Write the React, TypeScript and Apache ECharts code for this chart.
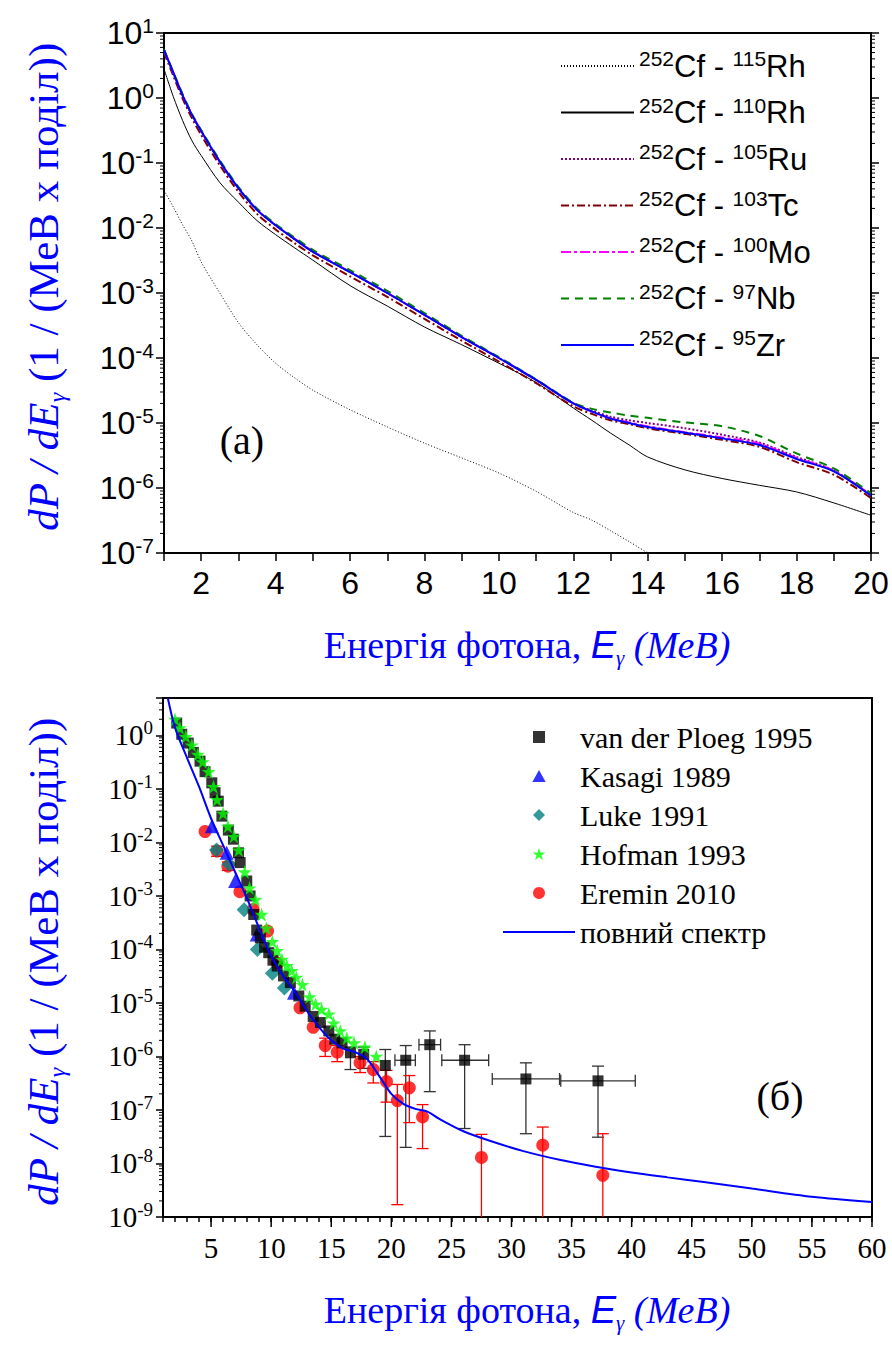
import React, { useEffect, useRef } from 'react';
import * as echarts from 'echarts';

// ---------- Top chart (a) ----------
const E_TOP = [1, 1.25, 1.5, 1.75, 2, 2.5, 3, 3.5, 4, 4.5, 5, 6, 7, 8, 9, 10, 11, 12, 12.5, 13, 13.5, 14, 15, 16, 17, 18, 19, 20];
const RH115 = [0.038, 0.021, 0.0112, 6.3e-3, 3.0e-3, 1.0e-3, 3.5e-4, 1.6e-4, 8.3e-5, 5.0e-5, 3.2e-5, 1.6e-5, 8.7e-6, 4.9e-6, 2.9e-6, 1.7e-6, 8.9e-7, 4.2e-7, 3.2e-7, 2.2e-7, 1.5e-7, 1.0e-7, null, null, null, null, null, null];
const RH110 = [2.8, 1.05, 0.45, 0.22, 0.13, 0.05, 0.025, 0.013, 7.9e-3, 5.0e-3, 3.2e-3, 1.3e-3, 6.3e-4, 3.0e-4, 1.6e-4, 8.3e-5, 4.2e-5, 1.7e-5, 1.1e-5, 7.0e-6, 4.6e-6, 3.0e-6, 1.9e-6, 1.4e-6, 1.1e-6, 8.7e-7, 5.9e-7, 3.8e-7];
const RU105 = [5.5, 2.45, 1.1, 0.55, 0.31, 0.105, 0.041, 0.019, 0.011, 6.8e-3, 4.3e-3, 2.1e-3, 1.0e-3, 4.6e-4, 2.1e-4, 1.0e-4, 4.6e-5, 2.0e-5, 1.55e-5, 1.25e-5, 1.1e-5, 1.0e-5, 8.3e-6, 6.6e-6, 5.0e-6, 3.0e-6, 1.85e-6, 7.8e-7];
const TC103 = [5.0, 2.2, 0.98, 0.49, 0.27, 0.092, 0.036, 0.0165, 9.5e-3, 5.9e-3, 3.8e-3, 1.8e-3, 8.7e-4, 4.0e-4, 1.85e-4, 8.8e-5, 4.1e-5, 1.8e-5, 1.38e-5, 1.1e-5, 9.6e-6, 8.3e-6, 6.8e-6, 5.5e-6, 4.3e-6, 2.5e-6, 1.6e-6, 7.0e-7];
const MO100 = [5.4, 2.45, 1.1, 0.55, 0.31, 0.105, 0.041, 0.019, 0.011, 6.9e-3, 4.4e-3, 2.1e-3, 1.0e-3, 4.6e-4, 2.1e-4, 1.0e-4, 4.6e-5, 2.0e-5, 1.5e-5, 1.18e-5, 1.02e-5, 8.9e-6, 7.2e-6, 6.0e-6, 4.8e-6, 2.9e-6, 1.85e-6, 7.8e-7];
const NB97 = [5.6, 2.5, 1.15, 0.57, 0.32, 0.11, 0.043, 0.02, 0.0115, 7.2e-3, 4.6e-3, 2.25e-3, 1.08e-3, 4.9e-4, 2.2e-4, 1.03e-4, 4.7e-5, 2.05e-5, 1.65e-5, 1.45e-5, 1.3e-5, 1.2e-5, 1.02e-5, 8.9e-6, 6.3e-6, 3.4e-6, 2.0e-6, 8.3e-7];
const ZR95 = [5.5, 2.45, 1.1, 0.55, 0.31, 0.105, 0.041, 0.019, 0.011, 6.8e-3, 4.3e-3, 2.1e-3, 1.0e-3, 4.6e-4, 2.1e-4, 1.0e-4, 4.6e-5, 2.0e-5, 1.5e-5, 1.17e-5, 1.0e-5, 8.7e-6, 7.1e-6, 5.8e-6, 4.6e-6, 2.8e-6, 1.8e-6, 7.6e-7];

const TOP_NAMES = ['252Cf - 115Rh', '252Cf - 110Rh', '252Cf - 105Ru', '252Cf - 103Tc', '252Cf - 100Mo', '252Cf - 97Nb', '252Cf - 95Zr'];
const TOP_DATA = [RH115, RH110, RU105, TC103, MO100, NB97, ZR95];
const TOP_COLORS = ['#000000', '#000000', '#800080', '#800000', '#ff00ff', '#008000', '#0000ff'];

// ---------- Bottom chart (б) ----------
// van der Ploeg 1995: [E, value]
const PLOEG = [[2.14, 1.7], [2.56, 1.05], [3.1, 0.72], [3.53, 0.48], [4.08, 0.33], [4.5, 0.21], [5.06, 0.13], [5.33, 0.085], [5.6, 0.059], [5.9, 0.031], [6.44, 0.017], [6.86, 0.0115], [7.28, 6.4e-3], [7.42, 4.2e-3], [7.97, 1.9e-3], [8.25, 1.0e-3], [8.55, 4.5e-4], [8.8, 2.3e-4], [9.1, 1.65e-4], [9.45, 1.1e-4], [9.8, 8.7e-5], [10.15, 6.3e-5], [10.5, 4.9e-5], [11.03, 3.2e-5], [11.6, 2.4e-5], [12.3, 1.35e-5], [12.83, 8.7e-6], [13.5, 5.6e-6], [14.1, 4.3e-6], [14.8, 3.0e-6], [15.3, 2.1e-6], [15.9, 1.8e-6], [16.6, 1.17e-6], [17.7, 1.1e-6]];
// van der Ploeg with error bars: [E, value, yLow, yHigh, xLow, xHigh]
const PLOEG_ERR = [[16.6, 1.17e-6, 5.7e-7, 1.5e-6, null, null], [17.7, 1.1e-6, 6.0e-7, 1.5e-6, null, null], [19.5, 6.8e-7, 3.2e-8, 1.35e-6, null, null], [21.2, 8.5e-7, 2.0e-8, 1.6e-6, 20.3, 22.0], [23.2, 1.66e-6, 2.2e-7, 3.0e-6, 22.3, 24.1], [26.1, 8.5e-7, 4.5e-8, 1.66e-6, 24.2, 28.1], [31.2, 3.8e-7, 3.6e-8, 7.6e-7, 28.4, 34.0], [37.2, 3.5e-7, 3.1e-8, 6.6e-7, 34.1, 40.3]];
const KASAGI = [[5.06, 0.020], [6.3, 6.4e-3], [7.0, 1.9e-3], [8.8, 1.9e-4], [11.9, 1.55e-5]];
const LUKE = [[5.45, 7.2e-3], [6.5, 3.9e-3], [7.75, 5.5e-4], [8.85, 1.0e-4], [10.1, 3.6e-5], [11.1, 1.9e-5]];
const HOFMAN = [[2.0, 2.0], [2.4, 1.38], [2.9, 0.95], [3.4, 0.66], [3.9, 0.44], [4.3, 0.32], [4.8, 0.21], [5.2, 0.11], [5.5, 0.063], [6.0, 0.035], [6.4, 0.02], [6.9, 0.013], [7.3, 7.2e-3], [7.8, 2.8e-3], [8.2, 1.4e-3], [8.7, 8.5e-4], [9.2, 4.5e-4], [9.6, 2.5e-4], [10.1, 1.4e-4], [10.5, 9.5e-5], [10.9, 6.5e-5], [11.3, 5.0e-5], [11.7, 4.0e-5], [12.1, 3.0e-5], [12.6, 2.2e-5], [13.2, 1.3e-5], [13.7, 9.5e-6], [14.2, 7.6e-6], [14.8, 6.2e-6], [15.2, 4.2e-6], [15.75, 3.0e-6], [16.3, 2.2e-6], [16.9, 1.8e-6], [17.8, 1.5e-6], [18.75, 1.0e-6]];
// Eremin 2010: [E, value, yLow, yHigh]
const EREMIN = [[4.5, 0.016, null, null], [5.5, 6.9e-3, 5.5e-3, 8.5e-3], [6.4, 3.6e-3, 3.0e-3, 4.3e-3], [7.4, 1.2e-3, null, null], [8.5, 5.6e-4, null, null], [9.7, 2.2e-4, null, null], [10.5, 5.6e-5, null, null], [12.4, 8.1e-6, null, null], [13.5, 3.5e-6, null, null], [14.5, 1.6e-6, 1.0e-6, 2.2e-6], [15.5, 1.2e-6, 8.0e-7, 1.6e-6], [17.4, 7.6e-7, 5.0e-7, 1.0e-6], [18.5, 5.7e-7, 3.2e-7, 8.0e-7], [19.6, 3.4e-7, 1.4e-7, 5.5e-7], [20.5, 1.5e-7, 1.7e-9, 3.0e-7], [21.5, 2.6e-7, 5.8e-8, 4.4e-7], [22.6, 7.4e-8, 1.9e-8, 1.26e-7], [27.5, 1.3e-8, 1e-11, 3.5e-8], [32.6, 2.2e-8, 1e-11, 4.8e-8], [37.6, 6.0e-9, 1e-11, 3.6e-8]];
// full spectrum line
const E_FULL = [1.4, 2, 3, 4, 5, 6, 7, 8, 9, 10, 11, 12, 13, 14, 15, 16, 17, 18, 19, 20, 21, 22, 23, 24, 26, 28, 31, 34, 37, 40, 43, 46, 50, 55, 60];
const FULL = [5.0, 1.4, 0.38, 0.11, 0.028, 8.9e-3, 2.8e-3, 8.9e-4, 2.5e-4, 7.6e-5, 3.2e-5, 1.6e-5, 7.0e-6, 3.5e-6, 2.0e-6, 1.4e-6, 1.2e-6, 8.9e-7, 4.3e-7, 2.0e-7, 1.3e-7, 1.05e-7, 9.3e-8, 6.8e-8, 4.0e-8, 2.75e-8, 1.7e-8, 1.17e-8, 8.7e-9, 6.8e-9, 5.5e-9, 4.5e-9, 3.4e-9, 2.4e-9, 1.9e-9];

const BOTTOM_NAMES = ['van der Ploeg 1995', 'Kasagi 1989', 'Luke 1991', 'Hofman 1993', 'Eremin 2010', 'повний спектр'];

const STAR = 'path://M50 0L61.8 35.1L98.8 35.1L68.8 56.9L80.2 92.1L50 70.3L19.8 92.1L31.2 56.9L1.2 35.1L38.2 35.1Z';
const SQUARE = 'path://M0 0L10 0L10 10L0 10Z';
const TRIANGLE = 'path://M5 0L10 9L0 9Z';
const DIAMOND = 'path://M5 0L10 5L5 10L0 5Z';

const SANS = "'Liberation Sans', Arial, sans-serif";
const SERIF = "'Liberation Serif', 'Times New Roman', serif";
const BLUE = '#0000ff';

function minorTickValues(kMin: number, kMax: number, top: number) {
  const out: number[] = [];
  for (let k = kMin; k <= kMax; k++) {
    for (let m = 2; m <= 9; m++) {
      const v = m * Math.pow(10, k);
      if (v < top) out.push(v);
    }
  }
  return out;
}

function supLabel(v: number) {
  const l = Math.log10(v);
  const e = Math.round(l);
  if (Math.abs(l - e) > 1e-6) return '';
  return `{a|10}{b|${e}}`;
}

function tickSeries(xIdx: number, yIdx: number, pts: number[][], dx: number, dy: number, len: number, lw: number) {
  return {
    type: 'custom',
    xAxisIndex: xIdx,
    yAxisIndex: yIdx,
    silent: true,
    clip: false,
    z: 5,
    data: pts,
    renderItem: (_p: any, api: any) => {
      const c = api.coord([api.value(0), api.value(1)]);
      return {
        type: 'line',
        shape: { x1: c[0], y1: c[1], x2: c[0] + dx * len, y2: c[1] + dy * len },
        style: { stroke: '#000', lineWidth: lw },
      };
    },
  };
}

function errSeries(xIdx: number, yIdx: number, data: any[], color: string, cap: number) {
  return {
    type: 'custom',
    xAxisIndex: xIdx,
    yAxisIndex: yIdx,
    silent: true,
    clip: true,
    data,
    renderItem: (_p: any, api: any) => {
      const x = api.value(0);
      const y = api.value(1);
      const lo = api.value(2);
      const hi = api.value(3);
      const xlo = api.value(4);
      const xhi = api.value(5);
      const children: any[] = [];
      const st = { stroke: color, lineWidth: 1.3 };
      if (Number.isFinite(lo) && Number.isFinite(hi) && lo > 0) {
        const pLo = api.coord([x, lo]);
        const pHi = api.coord([x, hi]);
        children.push({ type: 'line', shape: { x1: pLo[0], y1: pLo[1], x2: pHi[0], y2: pHi[1] }, style: st });
        children.push({ type: 'line', shape: { x1: pHi[0] - cap, y1: pHi[1], x2: pHi[0] + cap, y2: pHi[1] }, style: st });
        if (lo >= 1e-9) {
          children.push({ type: 'line', shape: { x1: pLo[0] - cap, y1: pLo[1], x2: pLo[0] + cap, y2: pLo[1] }, style: st });
        }
      }
      if (Number.isFinite(xlo) && Number.isFinite(xhi) && xlo > 0) {
        const a = api.coord([xlo, y]);
        const b = api.coord([xhi, y]);
        children.push({ type: 'line', shape: { x1: a[0], y1: a[1], x2: b[0], y2: b[1] }, style: st });
        children.push({ type: 'line', shape: { x1: a[0], y1: a[1] - cap, x2: a[0], y2: a[1] + cap }, style: st });
        children.push({ type: 'line', shape: { x1: b[0], y1: b[1] - cap, x2: b[0], y2: b[1] + cap }, style: st });
      }
      return { type: 'group', children };
    },
  };
}

export default function App() {
  const ref = useRef<HTMLDivElement>(null);
  useEffect(() => {
    document.body.style.margin = '0';
    if (!ref.current) return;
    const chart = echarts.init(ref.current, undefined, { renderer: 'svg' });

    const lineStyles: any[] = [
      { width: 1, type: [1, 2] },
      { width: 1, type: 'solid' },
      { width: 2, type: [2, 2] },
      { width: 2, type: [8, 3, 2, 3] },
      { width: 2, type: [10, 3, 3, 3] },
      { width: 2, type: [8, 6] },
      { width: 2, type: 'solid' },
    ];
    const topLines = TOP_NAMES.map((name, i) => ({
      name,
      type: 'line',
      xAxisIndex: 0,
      yAxisIndex: 0,
      symbol: 'none',
      smooth: 0.3,
      color: TOP_COLORS[i],
      lineStyle: { color: TOP_COLORS[i], ...lineStyles[i] },
      data: E_TOP.map((e, j) => [e, TOP_DATA[i][j]]).filter((p) => p[1] != null),
      z: 3,
    }));

    const topMinor = minorTickValues(-7, 0, 10);
    const botMinor = minorTickValues(-9, 0, 5);
    const botMajorX = [5, 10, 15, 20, 25, 30, 35, 40, 45, 50, 55, 60];

    const yLabelTop = {
      fontFamily: SANS,
      color: '#000',
      margin: 10,
      formatter: supLabel,
      rich: {
        a: { fontFamily: SANS, fontSize: 32, lineHeight: 36 },
        b: { fontFamily: SANS, fontSize: 21, lineHeight: 20, verticalAlign: 'top' },
      },
    };
    const yLabelBot = {
      fontFamily: SERIF,
      color: '#000',
      margin: 10,
      formatter: supLabel,
      rich: {
        a: { fontFamily: SERIF, fontSize: 29, lineHeight: 34 },
        b: { fontFamily: SERIF, fontSize: 19, lineHeight: 18, verticalAlign: 'top' },
      },
    };

    const mkRich = (fs: number) => ({
      r: { fontFamily: SERIF, fontSize: fs, lineHeight: fs + 8, color: BLUE },
      e: { fontFamily: SANS, fontStyle: 'italic', fontSize: fs, lineHeight: fs + 8, color: BLUE },
      g: { fontFamily: SERIF, fontStyle: 'italic', fontSize: Math.round(fs * 0.55), lineHeight: 6, verticalAlign: 'bottom', color: BLUE },
      i: { fontFamily: SERIF, fontStyle: 'italic', fontSize: fs, lineHeight: fs + 8, color: BLUE },
    });
    const xRich = mkRich(38);
    const yRich = mkRich(43);
    const xTitle = '{r|Енергія фотона, }{e|E}{g|γ}{i| (МеВ)}';
    const yTitle = '{i|dP / dE}{g|γ}{r| (1 / (МеВ x поділ))}';

    const option: any = {
      animation: false,
      backgroundColor: '#ffffff',
      grid: [
        { left: 164, top: 33, width: 707, height: 520, show: true, borderColor: '#000', borderWidth: 2, backgroundColor: 'transparent' },
        { left: 163, top: 698, width: 709, height: 519, show: true, borderColor: '#000', borderWidth: 2, backgroundColor: 'transparent' },
      ],
      xAxis: [
        {
          type: 'value', gridIndex: 0, min: 1, max: 20, interval: 1,
          axisLine: { lineStyle: { color: '#000', width: 2 } },
          axisTick: { show: true, length: 8, lineStyle: { color: '#000', width: 1.5 } },
          splitLine: { show: false },
          axisLabel: {
            fontFamily: SANS, fontSize: 32, color: '#000', margin: 14,
            formatter: (v: number) => (v % 2 === 0 ? String(v) : ''),
          },
        },
        {
          type: 'value', gridIndex: 1, min: 1, max: 60, interval: 1,
          axisLine: { lineStyle: { color: '#000', width: 2 } },
          axisTick: { show: true, length: 5, lineStyle: { color: '#000', width: 1.5 } },
          splitLine: { show: false },
          axisLabel: {
            fontFamily: SERIF, fontSize: 29, color: '#000', margin: 16,
            formatter: (v: number) => (v % 5 === 0 ? String(v) : ''),
          },
        },
      ],
      yAxis: [
        {
          type: 'log', gridIndex: 0, min: 1e-7, max: 10, interval: 1, logBase: 10,
          axisLine: { show: true, lineStyle: { color: '#000', width: 2 } },
          axisTick: { show: true, length: 8, lineStyle: { color: '#000', width: 1.5 } },
          splitLine: { show: false },
          axisLabel: yLabelTop,
        },
        {
          type: 'log', gridIndex: 0, min: 1e-7, max: 10, interval: 1, logBase: 10, position: 'right',
          axisLine: { show: true, lineStyle: { color: '#000', width: 2 } },
          axisTick: { show: true, length: 8, lineStyle: { color: '#000', width: 1.5 } },
          splitLine: { show: false },
          axisLabel: { show: false },
        },
        {
          type: 'log', gridIndex: 1, min: 1e-9, max: 5, interval: 1, logBase: 10,
          axisLine: { show: true, lineStyle: { color: '#000', width: 2 } },
          axisTick: { show: true, length: 7, lineStyle: { color: '#000', width: 1.5 } },
          splitLine: { show: false },
          axisLabel: yLabelBot,
        },
      ],
      legend: [
        {
          data: TOP_NAMES,
          orient: 'vertical',
          left: 555,
          top: 43,
          itemWidth: 73,
          itemHeight: 14,
          itemGap: 13,
          selectedMode: false,
          itemStyle: { opacity: 0 },
          formatter: (name: string) => {
            const m = name.match(/^(\d+)Cf - (\d+)(.+)$/);
            if (!m) return name;
            return `{s|${m[1]}}{m|Cf - }{s|${m[2]}}{m|${m[3]}}`;
          },
          textStyle: {
            color: '#000',
            fontFamily: SANS,
            rich: {
              m: { fontFamily: SANS, fontSize: 31, lineHeight: 36, color: '#000' },
              s: { fontFamily: SANS, fontSize: 21, lineHeight: 20, verticalAlign: 'top', color: '#000' },
            },
          },
        },
        {
          data: BOTTOM_NAMES.map((n) => (n === 'повний спектр' ? { name: n, itemStyle: { opacity: 0 } } : { name: n })),
          orient: 'vertical',
          left: 497,
          top: 716,
          itemWidth: 72,
          itemHeight: 12,
          itemGap: 7,
          selectedMode: false,
          textStyle: { color: '#000', fontFamily: SERIF, fontSize: 30, lineHeight: 32 },
        },
      ],
      graphic: [
        { type: 'text', x: 527, y: 645, style: { text: xTitle, rich: xRich, align: 'center', verticalAlign: 'middle', fill: BLUE } },
        { type: 'text', x: 527, y: 1310, style: { text: xTitle, rich: xRich, align: 'center', verticalAlign: 'middle', fill: BLUE } },
        { type: 'text', x: 43, y: 287, rotation: Math.PI / 2, style: { text: yTitle, rich: yRich, align: 'center', verticalAlign: 'middle', fill: BLUE } },
        { type: 'text', x: 43, y: 962, rotation: Math.PI / 2, style: { text: yTitle, rich: yRich, align: 'center', verticalAlign: 'middle', fill: BLUE } },
        { type: 'text', x: 242, y: 440, style: { text: '(a)', fontFamily: SERIF, fontSize: 40, align: 'center', verticalAlign: 'middle', fill: '#000' } },
        { type: 'text', x: 780, y: 1096, style: { text: '(б)', fontFamily: SERIF, fontSize: 40, align: 'center', verticalAlign: 'middle', fill: '#000' } },
      ],
      series: [
        ...topLines,
        tickSeries(0, 0, topMinor.map((v) => [1, v]), -1, 0, 4, 1),
        tickSeries(0, 1, topMinor.map((v) => [20, v]), 1, 0, 4, 1),
        tickSeries(1, 2, botMinor.map((v) => [1, v]), -1, 0, 4, 1),
        tickSeries(1, 2, botMajorX.map((x) => [x, 1e-9]), 0, 1, 10, 1.5),
        errSeries(1, 2, PLOEG_ERR, '#333333', 6),
        errSeries(1, 2, EREMIN, '#ff0000', 6),
        {
          name: 'Eremin 2010', type: 'scatter', xAxisIndex: 1, yAxisIndex: 2,
          symbol: 'circle', symbolSize: 13, color: '#ff0000', itemStyle: { color: '#ff0000' },
          data: EREMIN.map((d) => [d[0], d[1]]), z: 2,
        },
        {
          name: 'Luke 1991', type: 'scatter', xAxisIndex: 1, yAxisIndex: 2,
          symbol: DIAMOND, symbolSize: 15, color: '#008080', itemStyle: { color: '#008080' },
          data: LUKE, z: 2,
        },
        {
          name: 'Kasagi 1989', type: 'scatter', xAxisIndex: 1, yAxisIndex: 2,
          symbol: TRIANGLE, symbolSize: 14, color: BLUE, itemStyle: { color: BLUE },
          data: KASAGI, z: 2,
        },
        {
          name: 'van der Ploeg 1995', type: 'scatter', xAxisIndex: 1, yAxisIndex: 2,
          symbol: SQUARE, symbolSize: 11, color: '#000000', itemStyle: { color: '#000000' },
          data: [...PLOEG, ...PLOEG_ERR.slice(2).map((d) => [d[0], d[1]])], z: 2,
        },
        {
          name: 'Hofman 1993', type: 'scatter', xAxisIndex: 1, yAxisIndex: 2,
          symbol: STAR, symbolSize: 14, color: '#00ff00', itemStyle: { color: '#00ff00' },
          data: HOFMAN, z: 2,
        },
        {
          name: 'повний спектр', type: 'line', xAxisIndex: 1, yAxisIndex: 2,
          symbol: 'none', smooth: 0.3, color: BLUE, lineStyle: { color: BLUE, width: 2 },
          data: E_FULL.map((e, i) => [e, FULL[i]]), z: 4,
        },
      ],
    };
    chart.setOption(option);
    return () => chart.dispose();
  }, []);
  return <div ref={ref} style={{ width: 892, height: 1345 }} />;
}
